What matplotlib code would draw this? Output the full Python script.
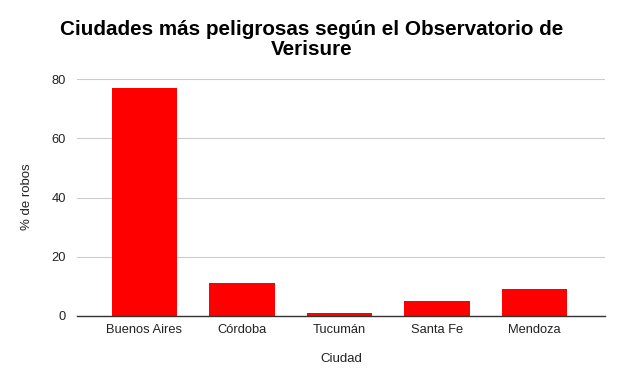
import matplotlib.pyplot as plt

# Datos
ciudades = ['Buenos Aires', 'Córdoba', 'Tucumán', 'Santa Fe', 'Mendoza']
robos = [77, 11, 1, 5, 9]
y_ticks = [0, 20, 40, 60, 80]

plt.rcParams['font.family'] = ['Liberation Sans', 'DejaVu Sans']

W, H = 624, 386
fig = plt.figure(figsize=(W / 100, H / 100), dpi=100)
ax = fig.add_axes([77 / W, (H - 316) / H, (605 - 77) / W, (316 - 79) / H])

x = range(len(ciudades))
ax.bar(x, robos, width=0.67, color='#ff0000', zorder=3)

ax.set_xlim(-0.69, 4.72)
ax.set_ylim(0, 80)
ax.set_yticks(y_ticks)
ax.set_xticks(list(x))
ax.set_xticklabels(ciudades)
ax.tick_params(axis='both', length=0, labelsize=9.3, colors='#222222')
ax.tick_params(axis='x', pad=6)
ax.tick_params(axis='y', pad=8)
ax.grid(axis='y', color='#cccccc', linewidth=0.8, zorder=0)
for s in ['top', 'right', 'left']:
    ax.spines[s].set_visible(False)
ax.spines['bottom'].set_color('#333333')
ax.spines['bottom'].set_linewidth(1)
ax.spines['bottom'].set_zorder(4)

fig.text(312 / W, 1 - 39.5 / H, 'Ciudades más peligrosas según el Observatorio de\nVerisure',
         ha='center', va='center', fontsize=14.9, fontweight='bold', linespacing=1.1)
fig.text(27 / W, 1 - 197 / H, '% de robos', rotation=90, ha='center', va='center',
         fontsize=9.5, color='#222222')
fig.text(341 / W, 1 - 359 / H, 'Ciudad', ha='center', va='center',
         fontsize=9.5, color='#222222')

fig.savefig('out.png', dpi=100)
